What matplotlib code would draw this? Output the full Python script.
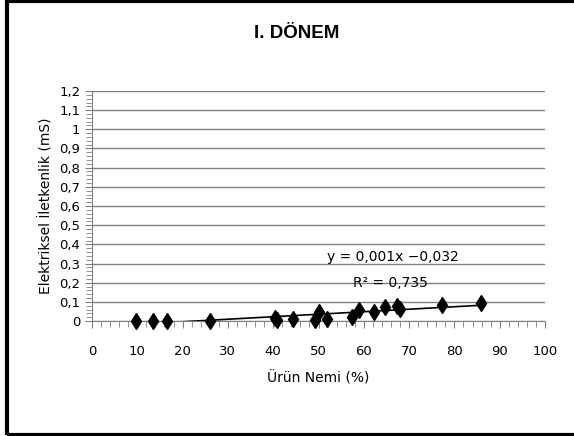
import numpy as np
import matplotlib.pyplot as plt
from matplotlib.ticker import MultipleLocator, FuncFormatter
from matplotlib.patches import Rectangle

# Ürün nemi (%) ve elektriksel iletkenlik (mS)
nem = [9.7, 13.5, 16.6, 26.0, 40.4, 40.9, 44.4, 49.3, 50.0, 51.8,
       57.5, 59.0, 62.2, 64.7, 67.3, 68.1, 77.2, 85.9]
iletkenlik = [0.002, 0.002, 0.002, 0.002, 0.014, 0.005, 0.010, 0.005, 0.048, 0.010,
              0.020, 0.057, 0.048, 0.075, 0.078, 0.063, 0.083, 0.092]

x_ticks = list(range(0, 101, 10))
y_ticks = [round(v * 0.1, 1) for v in range(13)]

fig = plt.figure(figsize=(5.74, 4.36), dpi=100)
ax = fig.add_axes([92 / 574, 1 - 321 / 436, (545 - 92) / 574, (321 - 91) / 436])

egim, kesisim = np.polyfit(nem, iletkenlik, 1)
xs = np.array([min(nem), max(nem)])
ax.plot(xs, egim * xs + kesisim, color='black', lw=1.2, zorder=3)
ax.plot(nem, iletkenlik, 'd', color='black', ms=8, zorder=4, clip_on=False)

ax.set_xlim(0, 100)
ax.set_ylim(0, 1.2)
ax.set_xticks(x_ticks)
ax.set_yticks(y_ticks)
ax.xaxis.set_minor_locator(MultipleLocator(2))
ax.yaxis.set_minor_locator(MultipleLocator(0.02))
fmt = FuncFormatter(lambda v, p: ('%g' % round(v, 1)).replace('.', ','))
ax.yaxis.set_major_formatter(fmt)
ax.grid(axis='y', color='#808080', lw=1)
ax.set_axisbelow(True)
for s in ['top', 'right']:
    ax.spines[s].set_visible(False)
for s in ['left', 'bottom']:
    ax.spines[s].set_color('#808080')
ax.tick_params(which='both', color='#808080', labelsize=9.5)
ax.tick_params(which='major', length=5)
ax.tick_params(which='minor', length=4)
ax.tick_params(axis='x', pad=12)

ax.set_xlabel('Ürün Nemi (%)', fontsize=10, labelpad=10)
ax.set_ylabel('Elektriksel İletkenlik (mS)', fontsize=10, labelpad=4)
fig.text(0.517, 1 - 33 / 436, 'I. DÖNEM', ha='center', va='center',
         fontsize=13.5, fontweight='bold', family='Liberation Sans')

ax.text(393, 436 - 257, 'y = 0,001x \u22120,032', transform=None, fontsize=10,
        ha='center', va='center')
ax.text(390, 436 - 283, 'R² = 0,735', fontsize=10, ha='center', va='center',
        transform=None)

# dış çerçeve (sağ kenar resmin dışında kalıyor)
fig.patches.append(Rectangle((6.5 / 574, 1.5 / 436), 580 / 574, 433 / 436,
                             transform=fig.transFigure, fill=False,
                             edgecolor='black', lw=3))

fig.savefig('out.png', dpi=100)
